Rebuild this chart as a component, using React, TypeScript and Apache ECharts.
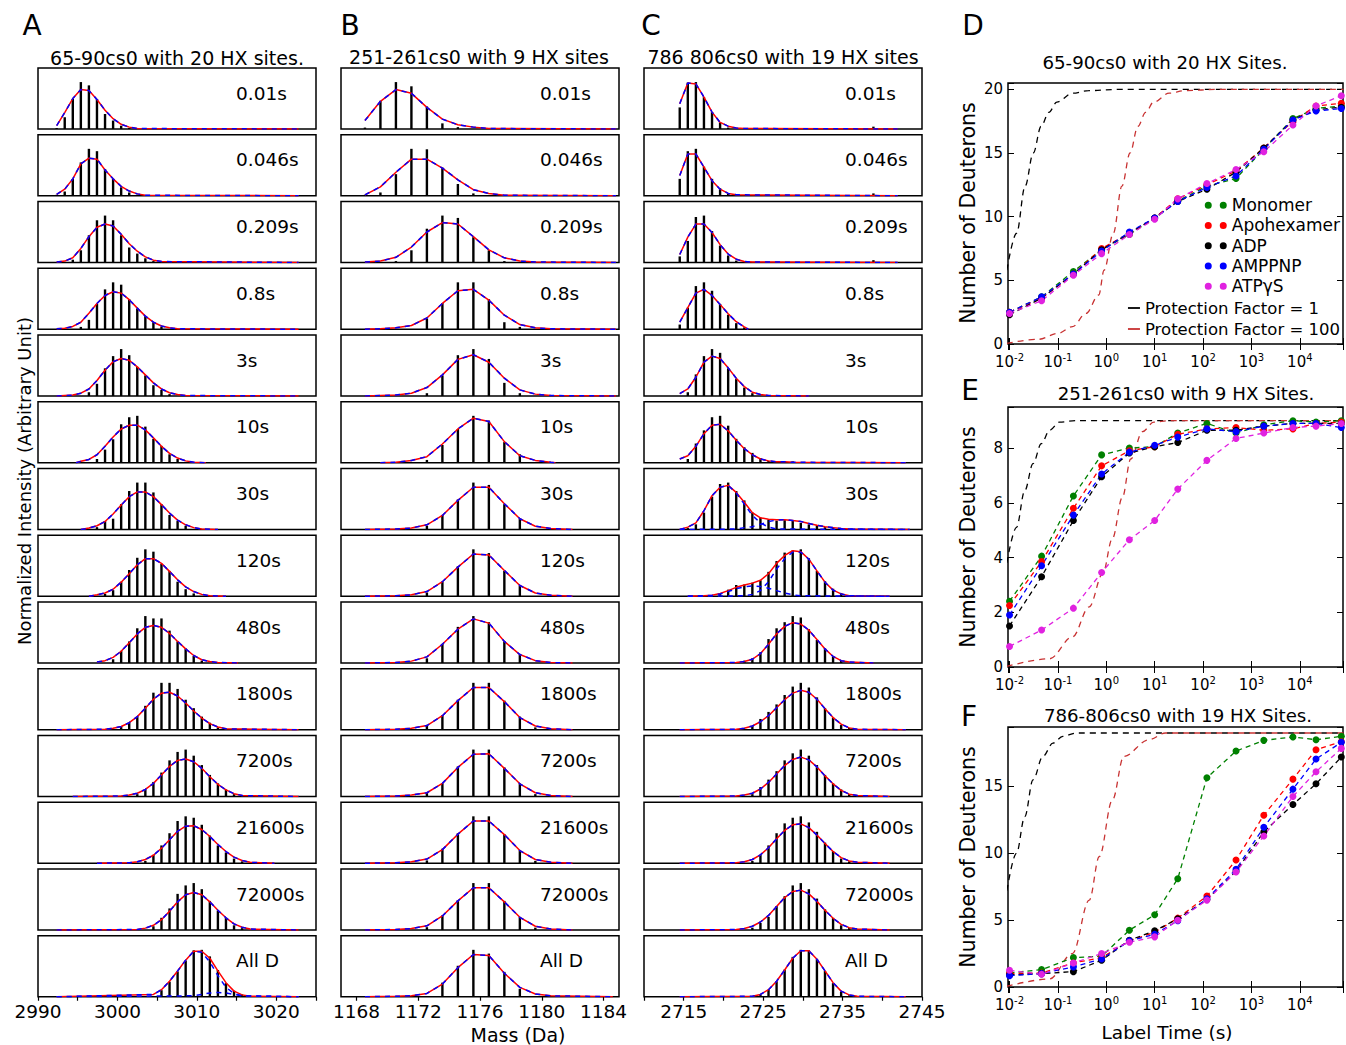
import React, { useEffect, useRef } from 'react';
import * as echarts from 'echarts';

const FONT = 'DejaVu Sans';

// ---------------- Small spectra panels ----------------
const TIME_LABELS = ['0.01s', '0.046s', '0.209s', '0.8s', '3s', '10s', '30s', '120s', '480s', '1800s', '7200s', '21600s', '72000s', 'All D'];

// Column A: 65-90cs0 (peaks at mass0 + k*step)
const A_MASS0 = 2992.35;
const A_STEP = 1.015;
const A_TICK_LABELS = [2990, 3000, 3010, 3020];
const A_TICKS = [2990, 2995, 3000, 3005, 3010, 3015, 3020, 3025];
const A_STICK_START = [0, 0, 2, 3, 4, 5, 5, 6, 7, 8, 10, 11, 12, 13];
const A_STICKS = [
  [0.02, 0.25, 0.64, 1.0, 0.93, 0.64, 0.32, 0.18, 0.07, 0.02],
  [0.02, 0.09, 0.36, 0.71, 1.0, 0.95, 0.57, 0.36, 0.18, 0.07, 0.02],
  [0.06, 0.26, 0.58, 0.9, 1.0, 0.9, 0.58, 0.32, 0.19, 0.09, 0.03],
  [0.05, 0.2, 0.54, 0.85, 1.0, 0.95, 0.64, 0.44, 0.28, 0.15, 0.05],
  [0.08, 0.26, 0.59, 0.85, 1.0, 0.87, 0.62, 0.44, 0.23, 0.13, 0.04],
  [0.08, 0.28, 0.5, 0.82, 0.97, 1.0, 0.77, 0.51, 0.36, 0.18, 0.08],
  [0.05, 0.18, 0.23, 0.54, 0.82, 1.0, 1.0, 0.79, 0.54, 0.31, 0.18, 0.08],
  [0.05, 0.13, 0.31, 0.56, 0.82, 1.0, 0.95, 0.69, 0.54, 0.31, 0.15, 0.06],
  [0.08, 0.26, 0.46, 0.74, 1.0, 0.95, 0.95, 0.69, 0.46, 0.31, 0.15, 0.05],
  [0.08, 0.15, 0.28, 0.51, 0.79, 1.0, 1.0, 0.87, 0.64, 0.46, 0.28, 0.15, 0.05],
  [0.05, 0.15, 0.31, 0.51, 0.77, 0.95, 1.0, 0.87, 0.67, 0.46, 0.28, 0.15, 0.05],
  [0.05, 0.18, 0.38, 0.64, 0.9, 1.0, 0.97, 0.82, 0.59, 0.38, 0.23, 0.1, 0.04],
  [0.08, 0.26, 0.46, 0.77, 0.95, 1.0, 0.87, 0.62, 0.41, 0.26, 0.1, 0.04],
  [0.14, 0.32, 0.54, 0.77, 0.99, 1.0, 0.86, 0.57, 0.29, 0.13, 0.05],
];
const A_FIT_START = [0, 0, 0, 0, 1, 3, 4, 5, 5, 6, 8, 9, 10, 12];
const A_FIT = [
  [0.07, 0.35, 0.65, 0.84, 0.82, 0.63, 0.4, 0.22, 0.1, 0.04, 0.01],
  [0.03, 0.14, 0.36, 0.68, 0.8, 0.78, 0.55, 0.36, 0.2, 0.1, 0.04, 0.01],
  [0.01, 0.03, 0.1, 0.3, 0.55, 0.75, 0.82, 0.78, 0.6, 0.4, 0.24, 0.12, 0.05, 0.02],
  [0.01, 0.02, 0.06, 0.15, 0.34, 0.55, 0.72, 0.8, 0.77, 0.63, 0.45, 0.28, 0.15, 0.07, 0.03, 0.01],
  [0.01, 0.02, 0.06, 0.15, 0.33, 0.55, 0.73, 0.8, 0.76, 0.62, 0.45, 0.28, 0.15, 0.07, 0.03, 0.01],
  [0.03, 0.07, 0.17, 0.35, 0.55, 0.72, 0.8, 0.8, 0.7, 0.53, 0.35, 0.2, 0.1, 0.04, 0.01],
  [0.03, 0.08, 0.17, 0.33, 0.52, 0.7, 0.8, 0.8, 0.7, 0.53, 0.35, 0.2, 0.1, 0.04, 0.01],
  [0.03, 0.07, 0.15, 0.3, 0.48, 0.67, 0.8, 0.8, 0.7, 0.53, 0.35, 0.2, 0.1, 0.04, 0.01],
  [0.02, 0.05, 0.12, 0.25, 0.43, 0.62, 0.76, 0.8, 0.76, 0.63, 0.46, 0.3, 0.16, 0.07, 0.03, 0.01],
  [0.01, 0.03, 0.07, 0.15, 0.28, 0.46, 0.65, 0.78, 0.8, 0.72, 0.57, 0.4, 0.25, 0.13, 0.06, 0.02],
  [0.01, 0.03, 0.07, 0.15, 0.28, 0.46, 0.64, 0.77, 0.8, 0.74, 0.6, 0.42, 0.26, 0.14, 0.06, 0.02],
  [0.01, 0.03, 0.08, 0.17, 0.32, 0.5, 0.68, 0.79, 0.8, 0.72, 0.57, 0.4, 0.25, 0.13, 0.06, 0.02],
  [0.01, 0.04, 0.1, 0.22, 0.4, 0.6, 0.75, 0.8, 0.75, 0.6, 0.42, 0.26, 0.13, 0.06, 0.02],
  [0.05, 0.15, 0.33, 0.55, 0.78, 0.97, 0.97, 0.82, 0.55, 0.3, 0.12, 0.04, 0.01],
];
const A_FLAT = [[0, 30], [0, 30], [0, 30], [0, 30], [0, 30], [2.4, 18.5], [3, 20], [4, 21], [5, 22.5], [0, 30], [2, 30], [5, 27], [0, 30], [0, 30]];
const A_COMP_PANEL = [13];
const A_COMP_START = [[12, 17]];
const A_COMP = [
  [[0.05, 0.15, 0.33, 0.55, 0.78, 0.97, 0.95, 0.74, 0.45, 0.2, 0.07, 0.02], [0.02, 0.05, 0.08, 0.09, 0.08, 0.05, 0.02]],
];

// Column B: 251-261cs0
const B_MASS0 = 1168.55;
const B_STEP = 1.003;
const B_TICK_LABELS = [1168, 1172, 1176, 1180, 1184];
const B_TICKS = [1168, 1172, 1176, 1180, 1184];
const B_STICK_START = [0, 0, 2, 4, 4, 4, 4, 4, 4, 4, 4, 4, 4, 5];
const B_STICKS = [
  [0.03, 0.6, 1.0, 0.91, 0.48, 0.12, 0.04],
  [0.02, 0.07, 0.46, 1.0, 0.99, 0.6, 0.25, 0.05],
  [0.03, 0.26, 0.72, 1.0, 0.95, 0.54, 0.26, 0.03],
  [0.23, 0.56, 1.0, 1.0, 0.64, 0.15, 0.05],
  [0.06, 0.44, 0.87, 1.0, 0.79, 0.28, 0.06],
  [0.06, 0.38, 0.72, 1.0, 0.9, 0.44, 0.18],
  [0.08, 0.31, 0.64, 1.0, 0.95, 0.54, 0.23],
  [0.08, 0.31, 0.64, 1.0, 0.92, 0.54, 0.23],
  [0.1, 0.41, 0.77, 1.0, 0.87, 0.46, 0.18],
  [0.08, 0.31, 0.64, 1.0, 1.0, 0.62, 0.28, 0.05],
  [0.08, 0.28, 0.64, 1.0, 1.0, 0.62, 0.28, 0.05],
  [0.06, 0.31, 0.64, 1.0, 1.0, 0.62, 0.28, 0.05],
  [0.06, 0.31, 0.64, 1.0, 1.0, 0.62, 0.28, 0.05],
  [0.3, 0.66, 1.0, 0.92, 0.53, 0.17],
];
const B_FIT_START = [0, 0, 0, 1, 1, 2, 2, 2, 2, 2, 2, 2, 2, 2];
const B_FIT = [
  [0.18, 0.59, 0.84, 0.76, 0.46, 0.21, 0.09, 0.04, 0.01],
  [0.02, 0.19, 0.5, 0.78, 0.78, 0.59, 0.34, 0.13, 0.05, 0.01],
  [0.01, 0.03, 0.11, 0.33, 0.65, 0.85, 0.82, 0.55, 0.27, 0.1, 0.03, 0.01],
  [0.01, 0.03, 0.08, 0.24, 0.55, 0.82, 0.85, 0.62, 0.3, 0.1, 0.03, 0.01],
  [0.01, 0.02, 0.06, 0.18, 0.45, 0.78, 0.88, 0.72, 0.38, 0.13, 0.04, 0.01],
  [0.01, 0.05, 0.13, 0.4, 0.72, 0.95, 0.88, 0.45, 0.15, 0.05, 0.01],
  [0.01, 0.03, 0.1, 0.3, 0.62, 0.9, 0.9, 0.55, 0.23, 0.07, 0.02],
  [0.01, 0.03, 0.1, 0.31, 0.62, 0.9, 0.88, 0.55, 0.23, 0.07, 0.02],
  [0.01, 0.04, 0.13, 0.4, 0.72, 0.94, 0.85, 0.46, 0.18, 0.05, 0.01],
  [0.01, 0.03, 0.09, 0.3, 0.62, 0.9, 0.9, 0.6, 0.26, 0.08, 0.02],
  [0.01, 0.03, 0.08, 0.28, 0.62, 0.9, 0.91, 0.6, 0.27, 0.08, 0.02],
  [0.01, 0.03, 0.09, 0.29, 0.62, 0.9, 0.9, 0.61, 0.27, 0.08, 0.02],
  [0.01, 0.03, 0.09, 0.3, 0.62, 0.9, 0.9, 0.6, 0.27, 0.08, 0.02],
  [0.01, 0.02, 0.07, 0.27, 0.62, 0.9, 0.88, 0.5, 0.2, 0.06, 0.02],
];
const B_FLAT = [[0, 16.2], [0, 16.2], [0, 16.2], [0, 16.2], [0, 16.2], [1, 12.3], [0, 13.4], [0, 13.4], [0, 13.4], [0, 13.4], [0, 13.4], [0, 13.4], [0, 13.4], [0, 16]];
const B_COMP_PANEL: number[] = [];
const B_COMP_START: number[][] = [];
const B_COMP: number[][][] = [];

// Column C: 786-806cs0
const C_MASS0 = 2714.5;
const C_STEP = 1.016;
const C_TICK_LABELS = [2715, 2725, 2735, 2745];
const C_TICKS = [2710, 2715, 2720, 2725, 2730, 2735, 2740, 2745];
const C_STICK_START = [0, 0, 0, 0, 1, 1, 1, 5, 8, 9, 9, 9, 9, 10];
const C_STICKS = [
  [0.46, 0.99, 1.0, 0.68, 0.36, 0.14, 0.03, 0, 0, 0, 0, 0, 0, 0, 0, 0, 0, 0, 0, 0, 0, 0.02, 0, 0, 0.05],
  [0.36, 0.95, 1.0, 0.62, 0.36, 0.16, 0.04, 0, 0, 0, 0, 0, 0, 0, 0, 0, 0, 0, 0, 0, 0, 0, 0, 0, 0.05],
  [0.13, 0.46, 0.97, 1.0, 0.67, 0.36, 0.15, 0.04, 0, 0, 0, 0, 0, 0, 0, 0, 0, 0, 0, 0, 0, 0, 0, 0, 0.05],
  [0.1, 0.46, 0.92, 1.0, 0.82, 0.54, 0.31, 0.13, 0.04],
  [0.08, 0.46, 0.85, 1.0, 0.92, 0.59, 0.36, 0.18, 0.06],
  [0.08, 0.41, 0.69, 0.97, 1.0, 0.79, 0.51, 0.33, 0.21, 0.1, 0.04, 0.03, 0.03, 0.03],
  [0.03, 0.11, 0.36, 0.7, 0.97, 1.0, 0.82, 0.62, 0.36, 0.25, 0.21, 0.19, 0.2, 0.19, 0.14, 0.11, 0.09, 0.05, 0.03],
  [0.05, 0.14, 0.24, 0.25, 0.29, 0.34, 0.52, 0.75, 0.93, 0.98, 1.0, 0.81, 0.54, 0.32, 0.16, 0.07, 0.02],
  [0.05, 0.1, 0.23, 0.51, 0.74, 0.87, 1.0, 0.97, 0.72, 0.49, 0.31, 0.13, 0.05],
  [0.08, 0.23, 0.38, 0.54, 0.74, 0.92, 1.0, 0.9, 0.69, 0.46, 0.26, 0.1, 0.04],
  [0.05, 0.2, 0.36, 0.54, 0.77, 0.92, 1.0, 0.87, 0.67, 0.46, 0.28, 0.15, 0.05],
  [0.05, 0.18, 0.38, 0.64, 0.85, 0.97, 1.0, 0.87, 0.67, 0.44, 0.26, 0.1, 0.04],
  [0.05, 0.15, 0.28, 0.51, 0.72, 0.95, 1.0, 0.87, 0.67, 0.44, 0.26, 0.1, 0.04],
  [0.05, 0.15, 0.33, 0.58, 0.85, 1.0, 0.99, 0.8, 0.55, 0.29, 0.11, 0.03],
];
const C_FIT_START = [0, 0, 0, 0, 0, 0, 0, 3, 7, 7, 7, 7, 7, 9];
const C_FIT = [
  [0.54, 0.98, 0.96, 0.68, 0.36, 0.14, 0.06, 0.02, 0.01],
  [0.43, 0.89, 0.89, 0.61, 0.32, 0.14, 0.05, 0.02],
  [0.17, 0.54, 0.82, 0.82, 0.64, 0.38, 0.18, 0.07, 0.02, 0.01],
  [0.15, 0.46, 0.77, 0.85, 0.72, 0.53, 0.33, 0.16, 0.05],
  [0.05, 0.15, 0.4, 0.72, 0.85, 0.8, 0.6, 0.38, 0.2, 0.08, 0.03, 0.01],
  [0.08, 0.15, 0.35, 0.62, 0.8, 0.82, 0.68, 0.48, 0.3, 0.17, 0.08, 0.04, 0.02, 0.02, 0.01],
  [0.0, 0.05, 0.14, 0.4, 0.72, 0.9, 0.94, 0.79, 0.58, 0.36, 0.25, 0.22, 0.21, 0.21, 0.19, 0.17, 0.13, 0.09, 0.06, 0.04, 0.02, 0.01],
  [0.01, 0.02, 0.06, 0.12, 0.19, 0.24, 0.28, 0.34, 0.48, 0.7, 0.87, 0.97, 0.95, 0.79, 0.54, 0.3, 0.13, 0.05, 0.01],
  [0.01, 0.03, 0.08, 0.2, 0.4, 0.62, 0.78, 0.86, 0.83, 0.7, 0.5, 0.3, 0.14, 0.05, 0.02],
  [0.01, 0.03, 0.08, 0.17, 0.3, 0.47, 0.64, 0.78, 0.84, 0.8, 0.65, 0.45, 0.26, 0.12, 0.04, 0.01],
  [0.01, 0.03, 0.07, 0.16, 0.3, 0.48, 0.66, 0.79, 0.84, 0.78, 0.63, 0.44, 0.27, 0.13, 0.05, 0.02],
  [0.01, 0.03, 0.08, 0.18, 0.33, 0.52, 0.7, 0.82, 0.84, 0.76, 0.6, 0.42, 0.25, 0.12, 0.05, 0.02],
  [0.01, 0.03, 0.08, 0.17, 0.31, 0.5, 0.69, 0.82, 0.85, 0.77, 0.61, 0.42, 0.25, 0.12, 0.05, 0.02],
  [0.01, 0.05, 0.15, 0.33, 0.57, 0.82, 0.98, 0.98, 0.8, 0.55, 0.3, 0.12, 0.04, 0.01],
];
const C_FLAT = [[0, 27], [0, 27], [0, 27], [0, 8.5], [0, 16], [0, 28], [0, 28.5], [1, 26], [0, 24], [0, 28], [0, 26], [0, 26], [0, 26], [0, 28]];
const C_COMP_PANEL = [6, 7];
const C_COMP_START = [[0, 7], [8, 3]];
const C_COMP = [
  [[0.0, 0.05, 0.14, 0.4, 0.72, 0.9, 0.94, 0.78, 0.54, 0.3, 0.14, 0.05, 0.01], [0.01, 0.04, 0.06, 0.11, 0.17, 0.2, 0.21, 0.19, 0.17, 0.13, 0.09, 0.06, 0.04, 0.02, 0.01]],
  [[0.01, 0.04, 0.12, 0.31, 0.58, 0.8, 0.94, 0.94, 0.79, 0.54, 0.3, 0.13, 0.05, 0.01], [0.01, 0.02, 0.05, 0.1, 0.16, 0.2, 0.22, 0.21, 0.17, 0.12, 0.07, 0.03, 0.01]],
];

// ---------------- Uptake panels D, E, F ----------------
const LABEL_TIMES = [0.01, 0.046, 0.209, 0.8, 3, 10, 30, 120, 480, 1800, 7200, 21600, 72000];
const CONDITIONS = ['Monomer', 'Apohexamer', 'ADP', 'AMPPNP', 'ATPγS'];
const COND_COLORS = ['#008000', '#ff0000', '#000000', '#0000ff', '#e022e0'];
const PF_NAMES = ['Protection Factor = 1', 'Protection Factor = 100'];
const PF_COLORS = ['#000000', '#c83232'];

const D_VALUES = [
  [2.5, 3.7, 5.7, 7.4, 8.6, 9.9, 11.25, 12.4, 13.0, 15.3, 17.7, 18.5, 18.7],
  [2.5, 3.6, 5.5, 7.5, 8.7, 9.9, 11.4, 12.5, 13.6, 15.4, 17.5, 18.7, 18.9],
  [2.3, 3.6, 5.5, 7.4, 8.7, 9.9, 11.2, 12.15, 13.5, 15.4, 17.6, 18.4, 18.6],
  [2.5, 3.7, 5.5, 7.3, 8.8, 9.9, 11.2, 12.3, 13.2, 15.3, 17.6, 18.3, 18.5],
  [2.4, 3.4, 5.4, 7.1, 8.6, 9.8, 11.4, 12.6, 13.7, 15.1, 17.2, 18.7, 19.5],
];
const E_VALUES = [
  [2.4, 4.05, 6.25, 7.75, 8.0, 8.05, 8.55, 8.9, 8.55, 8.85, 9.0, 8.95, 9.0],
  [2.25, 3.85, 5.8, 7.35, 7.9, 8.05, 8.5, 8.7, 8.75, 8.65, 8.7, 8.9, 8.95],
  [1.5, 3.3, 5.35, 6.95, 7.82, 8.05, 8.2, 8.65, 8.65, 8.8, 8.9, 8.9, 8.9],
  [1.9, 3.7, 5.55, 7.05, 7.85, 8.1, 8.4, 8.7, 8.6, 8.8, 8.9, 8.9, 8.75],
  [0.75, 1.35, 2.15, 3.45, 4.65, 5.35, 6.5, 7.55, 8.35, 8.55, 8.75, 8.8, 8.9],
];
const F_VALUES = [
  [1.05, 1.3, 2.2, 2.3, 4.25, 5.4, 8.1, 15.65, 17.65, 18.45, 18.7, 18.5, 18.75],
  [1.0, 1.05, 1.8, 2.2, 3.45, 4.1, 5.15, 6.8, 9.5, 12.85, 15.55, 17.75, 18.35],
  [0.9, 1.0, 1.15, 2.0, 3.5, 4.2, 5.1, 6.55, 8.65, 11.6, 13.65, 15.2, 17.2],
  [0.85, 1.0, 1.5, 2.1, 3.45, 3.95, 4.95, 6.6, 8.8, 11.95, 14.8, 17.05, 18.3],
  [1.25, 0.95, 1.8, 2.5, 3.35, 3.75, 5.0, 6.5, 8.6, 11.3, 14.25, 16.1, 17.85],
];

const D_PF1_T = [0.0088, 0.014, 0.021, 0.031, 0.045, 0.065, 0.095, 0.2, 0.43, 2, 80000];
const D_PF1_V = [5.8, 8.7, 12.4, 15.0, 17.1, 18.2, 19.0, 19.7, 19.9, 20, 20];
const D_PF100_T = [0.0088, 0.04, 0.1, 0.2, 0.38, 0.7, 0.9, 1.4, 2.1, 3.1, 4.5, 6.5, 9.5, 20, 43, 200, 80000];
const D_PF100_V = [0.05, 0.37, 0.84, 1.36, 2.4, 3.85, 5.8, 8.7, 12.4, 15, 17.1, 18.2, 19, 19.7, 19.9, 20, 20];
const E_PF1_T = [0.0088, 0.0139, 0.0207, 0.0306, 0.0454, 0.0674, 0.108, 0.236, 80000];
const E_PF1_V = [3.8, 5.1, 6.45, 7.43, 8.16, 8.65, 8.95, 9.0, 9.0];
const E_PF100_T = [0.0088, 0.067, 0.2, 0.445, 0.84, 1.34, 2.15, 3.2, 5.6, 9.6, 19.7, 80000];
const E_PF100_V = [0.02, 0.3, 1.1, 2.2, 3.4, 4.7, 6.2, 7.6, 8.6, 8.95, 9.0, 9.0];
const F_PF1_T = [0.0088, 0.0139, 0.0207, 0.0306, 0.049, 0.079, 0.126, 0.24, 80000];
const F_PF1_V = [7.2, 10, 12.75, 15.5, 17.25, 18.25, 18.75, 19.0, 19.0];
const F_PF100_T = [0.0088, 0.067, 0.2, 0.445, 0.716, 1.34, 2.3, 7.6, 16.7, 80000];
const F_PF100_V = [0.05, 0.6, 2.5, 6.5, 9.75, 14, 17.25, 18.5, 19.0, 19.0];

const T_MIN = 0.0093;
const T_MAX = 78000;

// ---------------- layout ----------------
const COL_LEFT = [38, 341, 644];
const PANEL_W = 278;
const PANEL_H = 61;
const ROW_TOP0 = 68;
const ROW_PITCH = 66.75;
const TIME_LABEL_DX = [198, 199, 201];

const TWO_DOTS = 'path://M0,3.5a3.5,3.5 0 1,0 7,0a3.5,3.5 0 1,0 -7,0M15,3.5a3.5,3.5 0 1,0 7,0a3.5,3.5 0 1,0 -7,0';

function text(x: number, y: number, t: string, size: number, align = 'center', rotation = 0) {
  return {
    type: 'text', x, y, rotation, silent: true,
    style: { text: t, fontSize: size, fontFamily: FONT, fill: '#000', align, verticalAlign: 'middle' },
  };
}

function buildOption() {
  const grid: any[] = [];
  const xAxis: any[] = [];
  const yAxis: any[] = [];
  const series: any[] = [];
  const elements: any[] = [];

  const cols = [
    { mass0: A_MASS0, step: A_STEP, min: 2990, max: 3025, labels: A_TICK_LABELS, ticks: A_TICKS, stickStart: A_STICK_START, sticks: A_STICKS, fitStart: A_FIT_START, fit: A_FIT, flat: A_FLAT, compPanel: A_COMP_PANEL, compStart: A_COMP_START, comp: A_COMP },
    { mass0: B_MASS0, step: B_STEP, min: 1167, max: 1185, labels: B_TICK_LABELS, ticks: B_TICKS, stickStart: B_STICK_START, sticks: B_STICKS, fitStart: B_FIT_START, fit: B_FIT, flat: B_FLAT, compPanel: B_COMP_PANEL, compStart: B_COMP_START, comp: B_COMP },
    { mass0: C_MASS0, step: C_STEP, min: 2710, max: 2745, labels: C_TICK_LABELS, ticks: C_TICKS, stickStart: C_STICK_START, sticks: C_STICKS, fitStart: C_FIT_START, fit: C_FIT, flat: C_FLAT, compPanel: C_COMP_PANEL, compStart: C_COMP_START, comp: C_COMP },
  ];

  cols.forEach((col, c) => {
    const m = (k: number) => col.mass0 + k * col.step;
    for (let r = 0; r < TIME_LABELS.length; r++) {
      const gi = grid.length;
      const top = ROW_TOP0 + r * ROW_PITCH;
      const last = r === TIME_LABELS.length - 1;
      grid.push({ left: COL_LEFT[c], top, width: PANEL_W, height: PANEL_H, show: true, borderColor: '#000', borderWidth: 1.5, backgroundColor: 'transparent' });
      xAxis.push({
        gridIndex: gi, type: 'value', min: col.min, max: col.max, show: last,
        axisLine: { show: false }, splitLine: { show: false },
        axisTick: { show: last, inside: false, length: 4, customValues: col.ticks, lineStyle: { color: '#000', width: 1.2 } },
        axisLabel: { show: last, customValues: col.labels, margin: 5, fontSize: 18.5, fontFamily: FONT, color: '#000', formatter: (v: number) => String(Math.round(v)) },
      });
      yAxis.push({ gridIndex: gi, type: 'value', min: 0, max: 1.3, show: false, splitLine: { show: false } });

      const bars = col.sticks[r].map((h, i) => [m(col.stickStart[r] + i), h]);
      series.push({ type: 'bar', xAxisIndex: gi, yAxisIndex: gi, data: bars, barWidth: 2.4, itemStyle: { color: '#000' }, silent: true, z: 2 });

      const [f0, f1] = col.flat[r];
      const curve = (start: number, vals: number[]) => {
        const pts: number[][] = [];
        if (f0 < start) pts.push([m(f0), 0]);
        vals.forEach((v, i) => pts.push([m(start + i), v]));
        if (f1 > start + vals.length - 1) pts.push([m(f1), 0]);
        return pts;
      };
      const red = curve(col.fitStart[r], col.fit[r]);
      series.push({ type: 'line', xAxisIndex: gi, yAxisIndex: gi, data: red, symbol: 'none', silent: true, lineStyle: { color: '#ff0000', width: 1.5 }, itemStyle: { color: '#ff0000' }, z: 3 });
      const blue = (pts: number[][]) => ({ type: 'line', xAxisIndex: gi, yAxisIndex: gi, data: pts, symbol: 'none', silent: true, lineStyle: { color: '#0000ff', width: 1.5, type: [5, 5] }, itemStyle: { color: '#0000ff' }, z: 4 });
      const ci = col.compPanel.indexOf(r);
      if (ci >= 0) {
        col.compStart[ci].forEach((s, j) => series.push(blue(curve(s, col.comp[ci][j]))));
      } else {
        series.push(blue(red));
      }
      elements.push(text(COL_LEFT[c] + TIME_LABEL_DX[c], top + 25, TIME_LABELS[r], 18.5, 'left'));
    }
  });

  const logFmt = (v: number) => {
    const e = Math.log10(v);
    if (Math.abs(e - Math.round(e)) > 1e-6) return '';
    return '{b|10}{s|' + Math.round(e) + '}';
  };
  const rich = {
    b: { fontSize: 15, fontFamily: FONT, color: '#000', lineHeight: 20 },
    s: { fontSize: 10, fontFamily: FONT, color: '#000', verticalAlign: 'top', lineHeight: 11 },
  };

  const right = [
    { top: 83, height: 261, ymax: 20.5, step: 5, values: D_VALUES, pf: [[D_PF1_T, D_PF1_V], [D_PF100_T, D_PF100_V]] },
    { top: 407, height: 260, ymax: 9.5, step: 2, values: E_VALUES, pf: [[E_PF1_T, E_PF1_V], [E_PF100_T, E_PF100_V]] },
    { top: 727, height: 260, ymax: 19.45, step: 5, values: F_VALUES, pf: [[F_PF1_T, F_PF1_V], [F_PF100_T, F_PF100_V]] },
  ];
  right.forEach((p) => {
    const gi = grid.length;
    grid.push({ left: 1008, top: p.top, width: 337, height: p.height, show: true, borderColor: '#000', borderWidth: 1.5, backgroundColor: 'transparent' });
    const xi = xAxis.length;
    const baseX = {
      gridIndex: gi, type: 'log', logBase: 10, min: T_MIN, max: T_MAX,
      axisLine: { show: false }, splitLine: { show: false },
      axisTick: { inside: true, length: 6, lineStyle: { color: '#000', width: 1 } },
    };
    xAxis.push({ ...baseX, position: 'bottom', axisLabel: { formatter: logFmt, rich, margin: 8, color: '#000' } });
    xAxis.push({ ...baseX, position: 'top', axisLabel: { show: false } });
    const yi = yAxis.length;
    const baseY = {
      gridIndex: gi, type: 'value', min: 0, max: p.ymax, interval: p.step,
      axisLine: { show: false }, splitLine: { show: false },
      axisTick: { inside: true, length: 6, lineStyle: { color: '#000', width: 1 } },
    };
    yAxis.push({ ...baseY, position: 'left', axisLabel: { margin: 5, fontSize: 15, fontFamily: FONT, color: '#000', formatter: (v: number) => (Math.abs(v / p.step - Math.round(v / p.step)) < 1e-6 ? String(v) : '') } });
    yAxis.push({ ...baseY, position: 'right', axisLabel: { show: false } });

    p.pf.forEach(([ts, vs], j) => {
      series.push({
        type: 'line', name: PF_NAMES[j], xAxisIndex: xi, yAxisIndex: yi,
        data: ts.map((t, i) => [t, vs[i]]), symbol: 'none', smooth: 0.35, smoothMonotone: 'x',
        lineStyle: { color: PF_COLORS[j], width: 1.3, type: [6, 5] }, itemStyle: { color: PF_COLORS[j] }, z: 3 + j,
      });
    });
    p.values.forEach((vals, j) => {
      series.push({
        type: 'line', name: CONDITIONS[j], xAxisIndex: xi, yAxisIndex: yi,
        data: LABEL_TIMES.map((t, i) => [t, vals[i]]), symbol: 'circle', symbolSize: 7, showSymbol: true,
        lineStyle: { color: COND_COLORS[j], width: 1.3, type: [5, 4] }, itemStyle: { color: COND_COLORS[j] }, z: 6,
      });
    });
  });

  // Static texts
  elements.push(text(32, 25, 'A', 28));
  elements.push(text(350, 25, 'B', 28));
  elements.push(text(651, 25, 'C', 28));
  elements.push(text(973, 25, 'D', 28));
  elements.push(text(970, 390, 'E', 28));
  elements.push(text(969, 716, 'F', 28));
  elements.push(text(177, 58, '65-90cs0 with 20 HX sites.', 19));
  elements.push(text(479, 57, '251-261cs0 with 9 HX sites', 19));
  elements.push(text(783, 57, '786 806cs0 with 19 HX sites', 19));
  elements.push(text(1165, 62, '65-90cs0 with 20 HX Sites.', 18.2));
  elements.push(text(1186, 393, '251-261cs0 with 9 HX Sites.', 18.2));
  elements.push(text(1178, 715, '786-806cs0 with 19 HX Sites.', 18.2));
  elements.push(text(518, 1035, 'Mass (Da)', 19));
  elements.push(text(1167, 1032, 'Label Time (s)', 18.5));
  elements.push(text(24, 481, 'Normalized Intensity (Arbitrary Unit)', 18, 'center', Math.PI / 2));
  elements.push(text(968, 213, 'Number of Deuterons', 20.5, 'center', Math.PI / 2));
  elements.push(text(968, 537, 'Number of Deuterons', 20.5, 'center', Math.PI / 2));
  elements.push(text(968, 857, 'Number of Deuterons', 20.5, 'center', Math.PI / 2));

  return {
    animation: false,
    backgroundColor: '#fff',
    textStyle: { fontFamily: FONT },
    grid, xAxis, yAxis, series,
    legend: [
      {
        data: CONDITIONS.map((n) => ({ name: n, icon: TWO_DOTS })),
        orient: 'vertical', right: 6, top: 195, padding: 0, itemGap: 0,
        itemWidth: 22, itemHeight: 7, selectedMode: false,
        itemStyle: { borderWidth: 0 },
        textStyle: { fontSize: 17, fontFamily: FONT, color: '#000', lineHeight: 20.3 },
      },
      {
        data: PF_NAMES.map((n) => ({ name: n, icon: 'rect' })),
        orient: 'vertical', right: 6, top: 297.5, padding: 0, itemGap: 0,
        itemWidth: 12, itemHeight: 1.8, selectedMode: false,
        itemStyle: { borderWidth: 0 },
        textStyle: { fontSize: 16.5, fontFamily: FONT, color: '#000', lineHeight: 21 },
      },
    ],
    graphic: { elements },
  };
}

export default function App() {
  const ref = useRef<HTMLDivElement>(null);
  useEffect(() => {
    if (!ref.current) return;
    const chart = echarts.init(ref.current, null, { renderer: 'svg' });
    chart.setOption(buildOption() as any);
    return () => chart.dispose();
  }, []);
  return <div ref={ref} style={{ position: 'fixed', left: 0, top: 0, width: 1346, height: 1045, background: '#fff' }} />;
}
